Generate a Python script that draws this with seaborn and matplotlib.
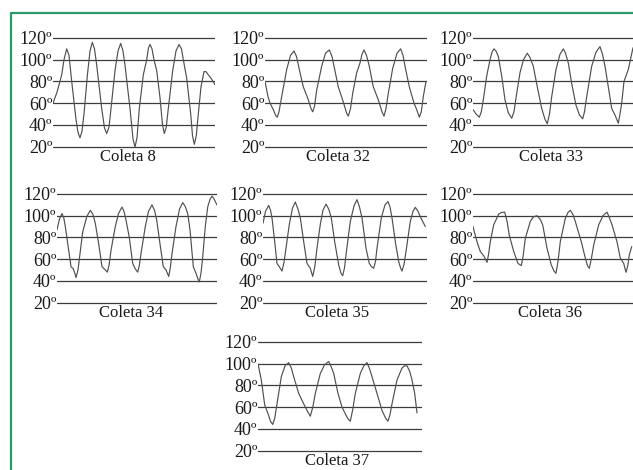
import numpy as np
import pandas as pd
import matplotlib
matplotlib.use('Agg')
import matplotlib.pyplot as plt
import seaborn as sns
from matplotlib.lines import Line2D

sns.set_style('white')
plt.rcParams['font.family'] = ['Liberation Serif', 'DejaVu Serif']

# ---- data (x = position along the trace, y = angle in degrees)
ticks = [20, 40, 60, 80, 100, 120]
tick_labels = ['20º', '40º', '60º', '80º', '100º', '120º']

titles = ['Coleta 8', 'Coleta 32', 'Coleta 33', 'Coleta 34', 'Coleta 35', 'Coleta 36', 'Coleta 37']

t8 = [0, 4, 8.7, 11, 13.7, 16, 18.7, 23, 25, 27, 29, 31, 34.3, 37, 39.3, 41.5, 43.7, 48.7,
      51.5, 53.7, 56, 58, 62, 65, 67.7, 70, 72, 77, 80, 82, 84, 86.3, 90.3, 93.7, 95.5, 97,
      99, 101, 103.7, 107, 109.5, 111.3, 113.3, 115.3, 119.7, 123, 126, 128.5, 130.3, 133.7,
      137.7, 139.5, 141.3, 143.3, 145.3, 148, 151, 153, 155.3, 158, 162]
v8 = [60, 70, 86, 100, 110, 104, 80, 45, 33, 28, 34, 50, 85, 108, 116, 110, 95, 55,
      37, 32, 38, 55, 90, 108, 115, 108, 95, 55, 27, 19.5, 28, 55, 86, 100, 111, 114,
      110, 100, 90, 65, 40, 32, 38, 55, 90, 108, 114, 110, 100, 83,
      50, 30, 22, 30, 50, 75, 89, 89, 86, 83, 77]

t32 = [0, 3, 5, 8.3, 10.5, 12.3, 14, 16.7, 21.7, 25.5, 29, 31.5, 34.3, 38.3, 43.3, 46, 47.7,
       49.5, 51.7, 56.7, 60.5, 64.3, 67, 69, 73.3, 78.3, 81.5, 83.3, 85.5, 87.7, 91.7, 95, 97,
       99, 101.5, 104.3, 108.3, 113.3, 117, 119, 121, 123.3, 127.7, 132, 135.7, 138, 140,
       144.3, 149, 151.7, 154.3, 156.3, 158.3, 161]
v32 = [80, 66, 60, 54, 49, 47, 52, 66, 91, 104, 108, 103, 91, 75, 63, 55, 52,
       57, 72, 94, 106, 109, 103, 94, 75, 61, 51, 48, 55, 69, 88, 97, 105,
       109, 104, 94, 75, 63, 52, 48, 55, 69, 92, 106, 110, 104, 94,
       75, 60, 54, 47, 52, 66, 80]

t33 = [0, 3, 6.3, 8.3, 10.3, 13.7, 17, 19, 21, 23, 25.3, 28.7, 32, 35.3, 38.7, 41, 43.7, 47,
       50.5, 54.3, 57, 60.3, 64.3, 68.7, 72, 74.3, 76.5, 78.7, 83, 87, 90.3, 92.5, 95.3, 98.7,
       103, 106.5, 109.7, 111.5, 113.7, 118.7, 123, 127, 129.5, 132, 135.3, 138.7, 142, 145.3,
       147, 148.7, 151, 155.3, 160]
v33 = [54, 50, 47, 52, 63, 85, 100, 107, 110, 108, 103, 85, 63, 51, 46, 52, 69, 88,
       100, 106, 102, 94, 75, 55, 45, 41, 50, 66, 91, 105, 110, 106, 97, 78,
       58, 49, 45.5, 52, 66, 94, 107, 112, 105, 94, 75, 55, 49, 41.5,
       50, 60, 80, 91, 111]

t34 = [0, 2.5, 5, 6.8, 8.3, 11.7, 14, 16.3, 17.8, 19, 21, 23, 25.7, 29.7, 33.3, 36, 38.3,
       41.7, 45, 48.3, 50.3, 52, 54, 58.3, 61.5, 65, 67, 69, 72.3, 75.7, 78.3, 80.7, 82.3, 84,
       88.3, 91.5, 95, 97.5, 99.7, 103, 106.3, 109, 111.7, 113.3, 115, 119, 122.5, 125.7, 128,
       130.7, 133, 136.3, 139, 140.8, 142.3, 144, 145.7, 148.3, 150.7, 153, 155, 156.8, 158.3,
       161.7]
v34 = [87, 97, 102, 98, 90, 68, 53, 51, 47, 43, 50, 65, 85, 99, 105, 101, 93,
       74, 53, 50, 48, 54, 68, 90, 102, 108, 104, 96, 80, 56, 51, 48, 54, 65,
       90, 104, 110, 105, 96, 74, 53, 50, 44, 52, 65, 90, 106, 112, 109,
       102, 87, 53, 47, 42, 39, 47, 62, 90, 108, 115, 118, 116, 113,
       107]

t35 = [0, 2.5, 5.7, 7.5, 9, 11.7, 14, 16.3, 19, 21, 23, 26.3, 29.5, 32.3, 35, 37.3, 40.7, 44,
       47.3, 49.7, 51.8, 54, 57.3, 60, 63, 65.8, 68.3, 71.7, 75.7, 78, 79.7, 81.5, 83, 87.3,
       91, 94, 96.5, 99, 103, 106.3, 108.5, 110.7, 112.5, 114, 118.3, 122, 125, 127, 129,
       132.3, 135.7, 137.5, 139, 141, 143, 147.3, 150, 152.3, 155, 157.3, 162.3]
v35 = [93, 104, 109.5, 105, 98, 76, 56, 53, 49, 57, 70, 92, 107, 112.6, 106, 98, 76, 56,
       51.5, 44, 53, 70, 92, 105, 110.7, 106, 98, 76, 54.6, 47, 44.7, 52, 64, 94.7,
       109, 114.8, 108, 98, 70, 56, 53, 51.5, 58, 70, 98, 110, 113, 108, 98,
       76, 57.7, 52, 49, 55, 67, 94.7, 104, 107.7, 104, 99, 90]

t36 = [0, 4, 7.3, 10.7, 12.5, 14, 15.5, 17.3, 20.7, 25.7, 28.5, 31.7, 34, 36.3, 40.7, 45,
       48.3, 50, 52.3, 57.3, 60.5, 64, 67, 69.7, 74, 78.3, 81, 83, 85, 87.3, 92.3, 95, 97.3,
       100, 102.3, 108.3, 112.3, 114.5, 116.3, 118.3, 120.7, 125.7, 130, 134, 136.5, 139,
       144, 147.3, 150.7, 153, 154.8, 156.3, 158.7]
v36 = [90, 76, 67, 63, 60, 57, 64, 76, 91.6, 101.5, 103, 103.3, 95, 82, 67, 56,
       54, 62, 79, 94.7, 99, 100, 97, 91.6, 70, 54.6, 49, 46.9, 58, 76, 97.5, 103, 105,
       101, 94.7, 76, 60.9, 54, 51.5, 60, 73, 91.6, 100, 103.3, 98, 91.6,
       76, 60.9, 56, 47.8, 54, 63.8, 71.5]

t37 = [0, 3.3, 6.7, 10, 12.5, 14.7, 16.8, 19, 23.3, 27, 30.7, 33.3, 35.7, 40.7, 45.7, 49,
       52.3, 54.8, 57.3, 62.3, 66.5, 70.7, 73.3, 75.7, 80, 84, 88, 90.2, 92.3, 94.8, 97.3,
       102.3, 105.8, 109, 111.7, 114, 119, 124, 127.5, 130, 132, 134, 139, 144, 146.5, 149,
       151.7, 154, 156.7, 159]
v37 = [100, 85, 62, 54, 47, 44, 50, 63, 88, 98, 101, 96, 88, 72.6, 63, 57,
       51.6, 60, 72.6, 91, 99, 102, 97, 91, 72.6, 60, 52.5, 49, 47, 58, 72.6,
       91, 98, 101, 95, 88, 72.6, 57, 50, 47, 53, 63, 85, 96, 98, 98,
       93, 85, 72.6, 54.7]

series = [(t8, v8), (t32, v32), (t33, v33), (t34, v34), (t35, v35), (t36, v36), (t37, v37)]

# ---- layout in pixels: left, right, y of 120 line, y of 20 line, title x (axes fraction)
W, H = 633, 470
boxes = [
    (53, 215, 38, 146.5, 0.46),
    (265, 427, 38, 146.5, 0.45),
    (473, 633, 38, 146.5, 0.49),
    (57, 217, 194, 302.5, 0.46),
    (263, 427, 194, 302.5, 0.45),
    (473, 633, 194, 302.5, 0.48),
    (258, 422, 342, 450.5, 0.48),
]
ylo, yhi = 15, 125
line_col = '#3c3c3c'

fig = plt.figure(figsize=(W / 100, H / 100), dpi=100)

for (t, v), title, (l, r, y120, y20, tx) in zip(series, titles, boxes):
    ppd = (y20 - y120) / 100.0
    top = y120 - (yhi - 120) * ppd
    bot = y20 + (20 - ylo) * ppd
    ax = fig.add_axes([l / W, 1 - bot / H, (r - l) / W, (bot - top) / H])
    df = pd.DataFrame({'t': t, 'v': v})
    sns.lineplot(data=df, x='t', y='v', ax=ax, color='#505050', linewidth=0.85,
                 sort=False, estimator=None)
    ax.set_xlim(0, r - l)
    ax.set_ylim(ylo, yhi)
    ax.set_yticks(ticks)
    ax.set_yticklabels(tick_labels)
    ax.set_xticks([])
    ax.set_xlabel('')
    ax.set_ylabel('')
    ax.yaxis.grid(True, color=line_col, linewidth=0.9)
    ax.set_axisbelow(True)
    ax.tick_params(axis='y', length=0, pad=0.5, labelsize=13, colors='#1a1a1a')
    for s in ax.spines.values():
        s.set_visible(False)
    ax.patch.set_alpha(0)
    fig.text((l + tx * (r - l)) / W, 1 - (y20 + 10.5) / H, title,
             ha='center', va='center', fontsize=12, color='#1a1a1a')

# green frame (top and left)
green = '#2e9a6b'
fig.add_artist(Line2D([11 / W, 1], [1 - 12.5 / H, 1 - 12.5 / H], color=green, linewidth=1.6))
fig.add_artist(Line2D([11 / W, 11 / W], [0, 1 - 12.5 / H], color=green, linewidth=1.6))

fig.savefig('out.png', dpi=100)
